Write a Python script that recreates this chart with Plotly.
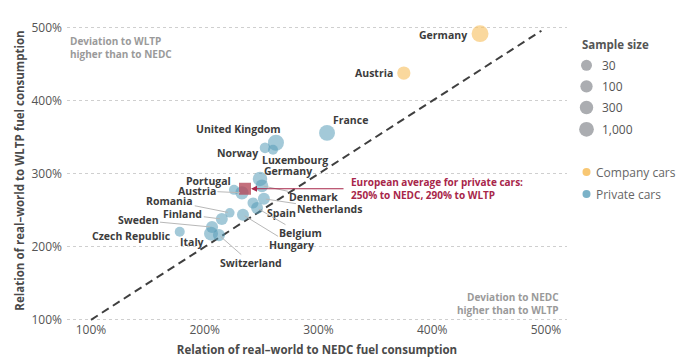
import numpy as np
import plotly.graph_objects as go

# ---------------- data ----------------
private_countries = ["France", "United Kingdom", "Norway", "Luxembourg", "Germany", "Denmark",
                     "Portugal", "Austria", "Netherlands", "Spain", "Belgium", "Hungary",
                     "Romania", "Finland", "Sweden", "Italy", "Switzerland", "Czech Republic"]
private_nedc = [307.5, 262.6, 253.0, 260.0, 248.6, 250.3, 225.7, 232.7, 252.0, 242.4,
                246.0, 233.6, 222.0, 215.0, 206.4, 205.5, 212.5, 178.0]
private_wltp = [356.0, 342.5, 335.6, 333.0, 293.0, 283.6, 278.0, 274.0, 265.8, 260.0,
                253.0, 243.8, 246.6, 238.0, 227.0, 218.0, 216.0, 220.5]
private_n = [3000, 3300, 22, 12, 800, 150, 12, 260, 80, 30, 80, 80, 8, 80, 80, 500, 80, 12]

company_countries = ["Germany", "Austria"]
company_nedc = [442.0, 375.0]
company_wltp = [492.0, 438.0]
company_n = [8000, 260]

avg_nedc = [235.4]
avg_wltp = [279.5]

diag_x = [100, 496]
diag_y = [100, 496]

tick_vals = [100, 200, 300, 400, 500]
tick_text = ["100%", "200%", "300%", "400%", "500%"]

legend_sizes = [30, 100, 300, 1000]
legend_size_labels = ["30", "100", "300", "1,000"]

# ---------------- styles ----------------
FONT = "Open Sans"
BLUE = "rgba(86,156,184,0.78)"
ORANGE = "rgba(248,196,108,0.95)"
GREY_DOT = "#878a90"
RED = "#a8264a"
LABEL_COLOR = "#3c3c3c"
LEADER = "#b8b8b8"


def diam(n):
    return 11 + 2.45 * (np.log10(np.asarray(n, dtype=float)) - np.log10(30))


# label offsets (pixels, label centre relative to point) and whether a leader line is drawn
label_pos = {
    ("company", "Germany"): (-37, 1, False),
    ("company", "Austria"): (-30, 0, False),
    ("private", "France"): (23, -13, False),
    ("private", "United Kingdom"): (-37, -14, False),
    ("private", "Norway"): (-28, 5, False),
    ("private", "Luxembourg"): (22, 10, False),
    ("private", "Germany"): (28, -8, False),
    ("private", "Denmark"): (52, 11, True),
    ("private", "Portugal"): (-25, -9, False),
    ("private", "Austria"): (-45, -2, True),
    ("private", "Netherlands"): (66, 10, True),
    ("private", "Spain"): (29, 10, False),
    ("private", "Belgium"): (43, 25, True),
    ("private", "Hungary"): (49, 30, True),
    ("private", "Romania"): (-60, -12, True),
    ("private", "Finland"): (-39, -5, True),
    ("private", "Sweden"): (-74, -7, True),
    ("private", "Italy"): (-19, 8, False),
    ("private", "Switzerland"): (32, 28, True),
    ("private", "Czech Republic"): (-48, 4, False),
}

L, R, T, B = 67, 0, 20, 43
W, H = 690, 364
paper_w = W - L - R
paper_h = H - T - B
main_frac = 500 / paper_w
x_range = [100 - 24 / 1.1375, 100 - 24 / 1.1375 + 500 / 1.1375]
y_range = [100 - 1.2 / 0.73, 100 - 1.2 / 0.73 + paper_h / 0.73]

fig = go.Figure()

# diagonal reference line
fig.add_trace(go.Scatter(x=diag_x, y=diag_y, mode="lines",
                         line=dict(color="#3f3f3f", width=2, dash="8px,5px"),
                         hoverinfo="skip", showlegend=False))

# private cars
fig.add_trace(go.Scatter(x=private_nedc, y=private_wltp, mode="markers",
                         marker=dict(size=diam(private_n), color=BLUE, line=dict(width=0)),
                         text=private_countries, showlegend=False))
# company cars
fig.add_trace(go.Scatter(x=company_nedc, y=company_wltp, mode="markers",
                         marker=dict(size=diam(company_n), color=ORANGE, line=dict(width=0)),
                         text=company_countries, showlegend=False))
# European average
fig.add_trace(go.Scatter(x=avg_nedc, y=avg_wltp, mode="markers",
                         marker=dict(symbol="square", size=12, color="rgba(180,72,88,0.78)",
                                     line=dict(width=0)),
                         showlegend=False))

annotations = []
for kind, names, xs, ys in [("private", private_countries, private_nedc, private_wltp),
                            ("company", company_countries, company_nedc, company_wltp)]:
    for name, xv, yv in zip(names, xs, ys):
        ax, ay, line = label_pos[(kind, name)]
        annotations.append(dict(
            x=xv, y=yv, xref="x", yref="y", text=f"<b>{name}</b>",
            showarrow=True, ax=ax, ay=ay, arrowhead=0, arrowwidth=1,
            arrowcolor=LEADER if line else "rgba(0,0,0,0)", standoff=2,
            font=dict(family=FONT, size=10.5, color=LABEL_COLOR)))

# European average arrow + text
annotations.append(dict(x=avg_nedc[0], y=avg_wltp[0], xref="x", yref="y", text="",
                        showarrow=True, ax=100, ay=0, arrowhead=2, arrowsize=1,
                        arrowwidth=1.2, arrowcolor=RED, standoff=6))
annotations.append(dict(x=(349 - L) / paper_w, y=(T + paper_h - 188) / paper_h,
                        xref="paper", yref="paper", xanchor="left", yanchor="middle",
                        align="left", showarrow=False,
                        text="<b>European average for private cars:<br>250% to NEDC, 290% to WLTP</b>",
                        font=dict(family=FONT, size=10, color=RED)))

# corner notes
annotations.append(dict(x=(68 - L) / paper_w, y=(T + paper_h - 47) / paper_h,
                        xref="paper", yref="paper", xanchor="left", yanchor="middle",
                        align="left", showarrow=False,
                        text="<b>Deviation to WLTP<br>higher than to NEDC</b>",
                        font=dict(family=FONT, size=10, color="#9a9a9a")))
annotations.append(dict(x=(561 - L) / paper_w, y=(T + paper_h - 303) / paper_h,
                        xref="paper", yref="paper", xanchor="right", yanchor="middle",
                        align="right", showarrow=False,
                        text="<b>Deviation to NEDC<br>higher than to WLTP</b>",
                        font=dict(family=FONT, size=10, color="#9a9a9a")))

# ---------------- legend (own axes, pixel-like coordinates) ----------------
leg_x0 = 572
leg_circle_x = 586.5
leg_text_x = 600
leg_rows_y = [65.3, 86.3, 107.5, 129.3]
fig.add_trace(go.Scatter(x=[leg_circle_x] * len(legend_sizes), y=leg_rows_y,
                         xaxis="x2", yaxis="y2", mode="markers",
                         marker=dict(size=diam(legend_sizes), color=GREY_DOT, line=dict(width=0)),
                         hoverinfo="skip", showlegend=False))
fig.add_trace(go.Scatter(x=[leg_circle_x, leg_circle_x], y=[172, 194],
                         xaxis="x2", yaxis="y2", mode="markers",
                         marker=dict(size=8, color=[ORANGE, BLUE], line=dict(width=0)),
                         hoverinfo="skip", showlegend=False))
annotations.append(dict(x=580, y=44, xref="x2", yref="y2", xanchor="left", yanchor="middle",
                        showarrow=False, text="<b>Sample size</b>",
                        font=dict(family=FONT, size=11.5, color="#555555")))
for lab, yy in zip(legend_size_labels, leg_rows_y):
    annotations.append(dict(x=leg_text_x, y=yy, xref="x2", yref="y2", xanchor="left",
                            yanchor="middle", showarrow=False, text=lab,
                            font=dict(family=FONT, size=12, color="#555555")))
for lab, yy in zip(["Company cars", "Private cars"], [172, 194]):
    annotations.append(dict(x=594, y=yy, xref="x2", yref="y2", xanchor="left",
                            yanchor="middle", showarrow=False, text=lab,
                            font=dict(family=FONT, size=12, color="#666666")))

fig.update_layout(
    width=W, height=H,
    margin=dict(l=L, r=R, t=T, b=B, pad=0, autoexpand=False),
    paper_bgcolor="white", plot_bgcolor="white",
    font=dict(family=FONT, color="#555555"),
    xaxis=dict(domain=[0, main_frac], range=x_range, tickvals=tick_vals, ticktext=tick_text,
               showgrid=False, zeroline=False, showline=False, ticks="", automargin=False,
               tickfont=dict(family=FONT, size=12, color="#555555"),
               title=dict(text="<b>Relation of real–world to NEDC fuel consumption</b>",
                          font=dict(family=FONT, size=11.5, color="#4a4a4a"), standoff=8)),
    yaxis=dict(range=y_range, tickvals=tick_vals, ticktext=tick_text,
               showgrid=True, gridcolor="#cfcfcf", griddash="dot", gridwidth=1,
               zeroline=False, showline=False, ticks="", ticklabelstandoff=4, automargin=False,
               tickfont=dict(family=FONT, size=12, color="#555555"),
               title=dict(text="<b>Relation of real–world to WLTP fuel consumption</b>",
                          font=dict(family=FONT, size=11.5, color="#4a4a4a"), standoff=4)),
    xaxis2=dict(domain=[(leg_x0 - L) / paper_w, 1], range=[leg_x0, W],
                visible=False, fixedrange=True),
    yaxis2=dict(domain=[0, 1], range=[T + paper_h, T], anchor="x2",
                visible=False, fixedrange=True),
    annotations=annotations,
    showlegend=False,
)

fig.write_html("out.html", config={"displayModeBar": False},
               post_script="document.body.style.margin='0';document.body.style.overflow='hidden';")
